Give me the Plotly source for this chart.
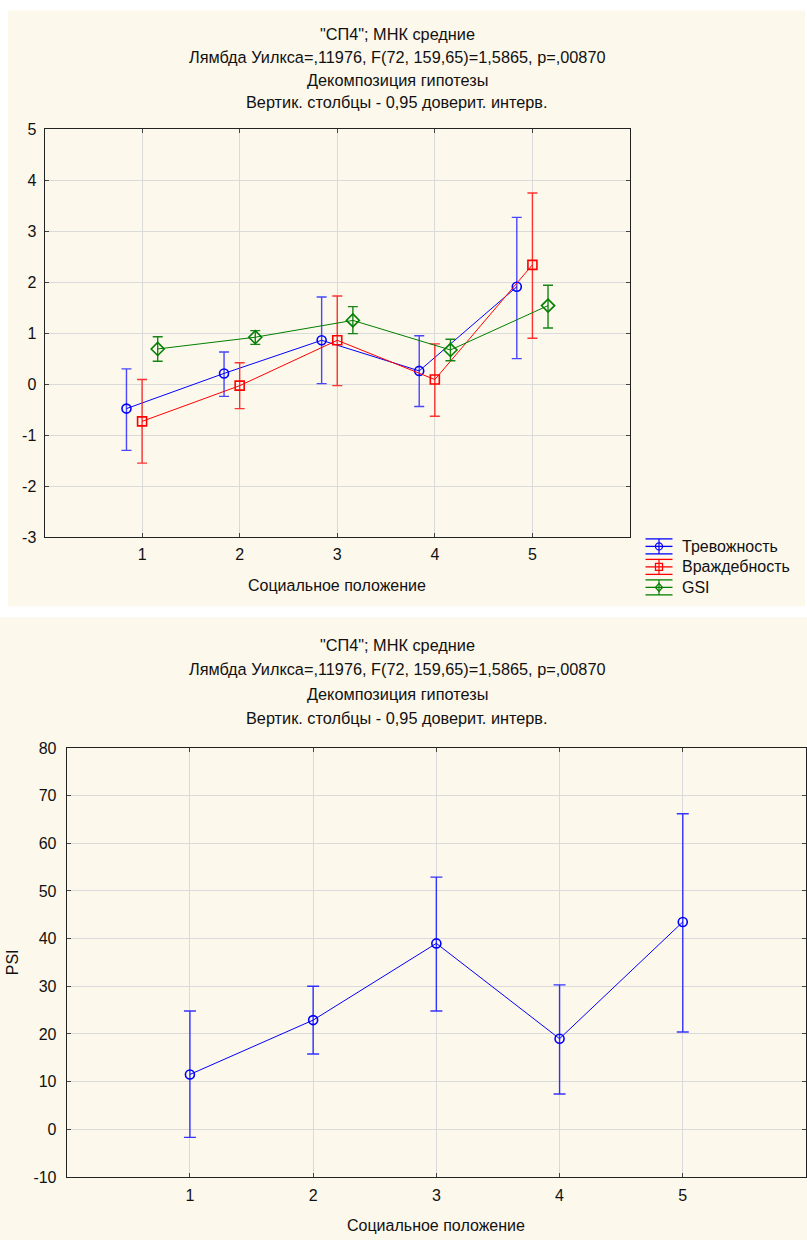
import plotly.graph_objects as go

# ---------------- data ----------------
categories = [1, 2, 3, 4, 5]
x_tick_labels = ["1", "2", "3", "4", "5"]

y1_tick_vals = [-3, -2, -1, 0, 1, 2, 3, 4, 5]
y1_tick_labels = ["-3", "-2", "-1", "0", "1", "2", "3", "4", "5"]
y2_tick_vals = [-10, 0, 10, 20, 30, 40, 50, 60, 70, 80]
y2_tick_labels = ["-10", "0", "10", "20", "30", "40", "50", "60", "70", "80"]

anxiety_mean = [-0.48, 0.21, 0.86, 0.26, 1.91]
anxiety_upper = [0.30, 0.63, 1.71, 0.95, 3.27]
anxiety_lower = [-1.30, -0.24, 0.01, -0.44, 0.50]

hostility_mean = [-0.73, -0.03, 0.86, 0.09, 2.34]
hostility_upper = [0.09, 0.42, 1.73, 0.79, 3.75]
hostility_lower = [-1.55, -0.48, -0.03, -0.63, 0.90]

gsi_mean = [0.69, 0.92, 1.25, 0.67, 1.54]
gsi_upper = [0.93, 1.05, 1.52, 0.88, 1.94]
gsi_lower = [0.45, 0.78, 0.99, 0.46, 1.10]

psi_mean = [11.5, 22.9, 39.0, 19.0, 43.5]
psi_upper = [24.8, 30.0, 52.9, 30.3, 66.2]
psi_lower = [-1.7, 15.8, 24.8, 7.4, 20.4]

series_names = ["Тревожность", "Враждебность", "GSI"]
series_offsets = [-0.16, 0.0, 0.16]

title_lines = ['"СП4"; МНК средние',
               'Лямбда Уилкса=,11976, F(72, 159,65)=1,5865, p=,00870',
               'Декомпозиция гипотезы',
               'Вертик. столбцы - 0,95 доверит. интерв.']
x_title = "Социальное положение"
psi_title = "PSI"

# ---------------- layout geometry ----------------
W, H = 807, 1240
FONT = "Liberation Sans, Arial, sans-serif"
FS = 16
TXT = "#111111"
CREAM = "#FDF8EC"

# the captured page is slightly compressed vertically; compensate
V_SCALE, V_OFF = 0.9866, 7.44

def px(x):
    return x / W

def py(y):
    src = (y - V_OFF) / V_SCALE
    return 1 - src / H

fig = go.Figure()

def add_series(mean, upper, lower, offset, color, bar_color, symbol, size, name, xa, ya, capw):
    xs = [c + offset for c in categories]
    fig.add_trace(go.Scatter(
        x=xs, y=mean, mode="lines+markers", name=name,
        xaxis=xa, yaxis=ya, showlegend=False,
        line=dict(color=color, width=1),
        marker=dict(symbol=symbol, size=size, color=color, line=dict(color=color, width=1.6)),
        error_y=dict(type="data", symmetric=False,
                     array=[u - m for u, m in zip(upper, mean)],
                     arrayminus=[m - l for m, l in zip(mean, lower)],
                     color=bar_color, thickness=1.4, width=capw),
    ))

series_colors = ["#0000FF", "#FF0000", "#007F00"]
bar_colors = ["rgba(40,40,255,0.85)", "rgba(255,30,30,0.9)", "rgba(0,120,0,0.9)"]

add_series(anxiety_mean, anxiety_upper, anxiety_lower, series_offsets[0], series_colors[0], bar_colors[0],
           "circle-open", 9, series_names[0], "x", "y", 5)
add_series(hostility_mean, hostility_upper, hostility_lower, series_offsets[1], series_colors[1], bar_colors[1],
           "square-open", 9, series_names[1], "x", "y", 5)
add_series(gsi_mean, gsi_upper, gsi_lower, series_offsets[2], series_colors[2], bar_colors[2],
           "diamond-open", 10, series_names[2], "x", "y", 5)
add_series(psi_mean, psi_upper, psi_lower, 0.0, "#0000FF", "rgba(30,30,255,0.9)",
           "circle-open", 9, "PSI", "x2", "y2", 6)

axis_common = dict(
    showline=True, linecolor="#222222", linewidth=1, mirror="ticks",
    ticks="inside", ticklen=4, tickcolor="#444444", tickwidth=1,
    showgrid=True, gridcolor="#DADADA", gridwidth=1, zeroline=False,
    tickfont=dict(family=FONT, size=FS, color=TXT),
    fixedrange=True,
)

fig.update_layout(
    width=W, height=H,
    margin=dict(l=0, r=0, t=0, b=0),
    paper_bgcolor="rgba(0,0,0,0)", plot_bgcolor="white",
    font=dict(family=FONT, size=FS, color=TXT),
    xaxis=dict(domain=[px(44.5), px(630)], range=[0, 6], tickvals=categories, ticktext=x_tick_labels,
               anchor="y", ticklabelstandoff=3, **axis_common),
    yaxis=dict(domain=[py(536.7), py(128.7)], range=[-3, 5], tickvals=y1_tick_vals, ticktext=y1_tick_labels,
               anchor="x", ticklabelstandoff=4, **axis_common),
    xaxis2=dict(domain=[px(66.7), px(806)], range=[0, 6], tickvals=categories, ticktext=x_tick_labels,
                anchor="y2", ticklabelstandoff=4, **axis_common),
    yaxis2=dict(domain=[py(1176.7), py(747.7)], range=[-10, 80], tickvals=y2_tick_vals, ticktext=y2_tick_labels,
                anchor="x2", ticklabelstandoff=6, **axis_common),
    showlegend=False,
)

# cream panels
fig.add_shape(type="rect", xref="paper", yref="paper", x0=px(8), x1=px(805), y0=py(606), y1=py(10),
              fillcolor=CREAM, line=dict(width=0), layer="below")
fig.add_shape(type="rect", xref="paper", yref="paper", x0=0, x1=1, y0=py(1260), y1=py(617),
              fillcolor=CREAM, line=dict(width=0), layer="below")

# titles
for ys in ([33, 56, 79, 101], [645, 669, 694, 718]):
    for line, yy in zip(title_lines, ys):
        fig.add_annotation(text=line, xref="paper", yref="paper", x=px(397), y=py(yy),
                           xanchor="center", yanchor="middle", showarrow=False,
                           font=dict(family=FONT, size=16.3, color=TXT))

fig.add_annotation(text=x_title, xref="paper", yref="paper", x=px(337), y=py(585),
                   xanchor="center", yanchor="middle", showarrow=False,
                   font=dict(family=FONT, size=FS, color=TXT))
fig.add_annotation(text=x_title, xref="paper", yref="paper", x=px(436), y=py(1225),
                   xanchor="center", yanchor="middle", showarrow=False,
                   font=dict(family=FONT, size=FS, color=TXT))
fig.add_annotation(text=psi_title, xref="paper", yref="paper", x=px(12), y=py(962),
                   xanchor="center", yanchor="middle", showarrow=False, textangle=-90,
                   font=dict(family=FONT, size=FS, color=TXT))

# custom legend (error-bar style glyphs)
leg_x0, leg_x1, leg_cx = 645.5, 672.5, 659
leg_rows = [546, 566.5, 587]
for name, color, yc, kind in zip(series_names, series_colors, leg_rows, ["circle", "square", "diamond"]):
    for dy in (-7.5, 0, 7.5):
        fig.add_shape(type="line", xref="paper", yref="paper",
                      x0=px(leg_x0), x1=px(leg_x1), y0=py(yc + dy), y1=py(yc + dy),
                      line=dict(color=color, width=1.3))
    fig.add_shape(type="line", xref="paper", yref="paper",
                  x0=px(leg_cx), x1=px(leg_cx), y0=py(yc + 7.5), y1=py(yc - 7.5),
                  line=dict(color=color, width=1.2))
    r = 3.5
    if kind == "circle":
        fig.add_shape(type="circle", xref="paper", yref="paper",
                      x0=px(leg_cx - r), x1=px(leg_cx + r), y0=py(yc + r), y1=py(yc - r),
                      line=dict(color=color, width=1.3), fillcolor="rgba(0,0,0,0)")
    elif kind == "square":
        fig.add_shape(type="rect", xref="paper", yref="paper",
                      x0=px(leg_cx - r), x1=px(leg_cx + r), y0=py(yc + r), y1=py(yc - r),
                      line=dict(color=color, width=1.3), fillcolor="rgba(0,0,0,0)")
    else:
        path = "M {a},{b} L {c},{d} L {a},{e} L {f},{d} Z".format(
            a=px(leg_cx), b=py(yc - r - 0.5), c=px(leg_cx + r), d=py(yc), e=py(yc + r + 0.5), f=px(leg_cx - r))
        fig.add_shape(type="path", xref="paper", yref="paper", path=path,
                      line=dict(color=color, width=1.3), fillcolor="rgba(0,0,0,0)")
    fig.add_annotation(text=name, xref="paper", yref="paper", x=px(680), y=py(yc),
                       xanchor="left", yanchor="middle", showarrow=False,
                       font=dict(family=FONT, size=FS, color=TXT))

fig.write_html(
    "out.html",
    config={"displayModeBar": False},
    post_script=(
        "var s='margin:0;padding:0;';"
        "document.documentElement.style.cssText=s+'background:linear-gradient(#ffffff 0%,#ffffff 50%,"
        + CREAM + " 50%," + CREAM + " 100%);min-height:100%;';"
        "document.body.style.cssText=s+'background:transparent;';"
        "var svgs=document.querySelectorAll('.main-svg');"
        "for(var i=0;i<svgs.length;i++){svgs[i].style.overflow='visible';}"
    ),
)
